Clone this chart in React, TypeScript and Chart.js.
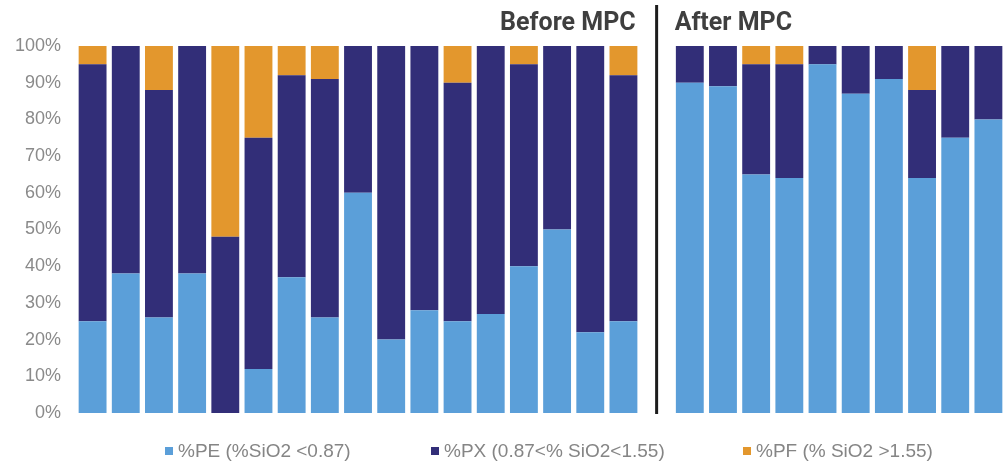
import React, { useEffect, useRef } from "react";
import { Chart, registerables } from "chart.js";

Chart.register(...registerables);

// 17 "before" samples, one empty separator slot, 10 "after" samples
const categories: string[] = [
  "B1", "B2", "B3", "B4", "B5", "B6", "B7", "B8", "B9", "B10", "B11", "B12", "B13", "B14", "B15", "B16", "B17",
  "",
  "A1", "A2", "A3", "A4", "A5", "A6", "A7", "A8", "A9", "A10",
];
const separatorIndex = 17;

const pe: (number | null)[] = [
  25, 38, 26, 38, 0, 12, 37, 26, 60, 20, 28, 25, 27, 40, 50, 22, 25,
  null,
  90, 89, 65, 64, 95, 87, 91, 64, 75, 80,
];
const px: (number | null)[] = [
  70, 62, 62, 62, 48, 63, 55, 65, 40, 80, 72, 65, 73, 55, 50, 78, 67,
  null,
  10, 11, 30, 31, 5, 13, 9, 24, 25, 20,
];
const pf: (number | null)[] = [
  5, 0, 12, 0, 52, 25, 8, 9, 0, 0, 0, 10, 0, 5, 0, 0, 8,
  null,
  0, 0, 5, 5, 0, 0, 0, 12, 0, 0,
];

const seriesNames = ["%PE (%SiO2 <0.87)", "%PX (0.87<% SiO2<1.55)", "%PF (% SiO2 >1.55)"];
const seriesColors = ["#5b9fd9", "#322e78", "#e3972d"];
const yTicks = [0, 10, 20, 30, 40, 50, 60, 70, 80, 90, 100];
const groupTitles = ["Before MPC", "After MPC"];

const legendPos = [165, 431, 743];

export default function App() {
  const canvasRef = useRef<HTMLCanvasElement | null>(null);

  useEffect(() => {
    document.body.style.margin = "0";
    const canvas = canvasRef.current;
    if (!canvas) return;

    const separatorPlugin = {
      id: "separator",
      afterDatasetsDraw(chart: any) {
        const { ctx, chartArea, scales } = chart;
        const x = scales.x.getPixelForValue(separatorIndex);
        ctx.save();
        ctx.strokeStyle = "#1c1c1c";
        ctx.lineWidth = 3;
        ctx.beginPath();
        ctx.moveTo(x, 5);
        ctx.lineTo(x, chartArea.bottom + 1);
        ctx.stroke();
        ctx.fillStyle = "#3f3f3f";
        ctx.font = "bold 25px Roboto";
        ctx.textBaseline = "alphabetic";
        ctx.textAlign = "right";
        ctx.fillText(groupTitles[0], x - 21, 30);
        ctx.textAlign = "left";
        ctx.fillText(groupTitles[1], x + 18, 30);
        ctx.restore();
      },
    };

    const chart = new Chart(canvas, {
      type: "bar",
      data: {
        labels: categories,
        datasets: [
          { label: seriesNames[0], data: pe, backgroundColor: seriesColors[0] },
          { label: seriesNames[1], data: px, backgroundColor: seriesColors[1] },
          { label: seriesNames[2], data: pf, backgroundColor: seriesColors[2] },
        ],
      },
      options: {
        animation: false,
        responsive: true,
        maintainAspectRatio: false,
        layout: { padding: { top: 46, bottom: 54, left: 0, right: 0 } },
        datasets: { bar: { barPercentage: 0.84, categoryPercentage: 1 } },
        plugins: {
          legend: { display: false },
          tooltip: { enabled: false },
        },
        scales: {
          x: { stacked: true, display: false },
          y: {
            stacked: true,
            min: 0,
            max: 100,
            afterFit: (s: any) => {
              s.width = 76;
            },
            afterBuildTicks: (s: any) => {
              s.ticks = yTicks.map((v) => ({ value: v }));
            },
            grid: { display: false, drawTicks: false },
            border: { display: false },
            ticks: {
              padding: 15,
              color: "#8a8a8a",
              font: { family: "'Liberation Sans', Arial, sans-serif", size: 18 },
              callback: (v: any) => v + "%",
            },
          },
        },
      },
      plugins: [separatorPlugin],
    });

    return () => chart.destroy();
  }, []);

  return (
    <div style={{ position: "absolute", left: 0, top: 0, width: 1005, height: 467, background: "#fff" }}>
      <canvas ref={canvasRef} />
      {seriesNames.map((name, i) => (
        <div
          key={name}
          style={{
            position: "absolute",
            left: legendPos[i],
            top: 440,
            height: 22,
            display: "flex",
            alignItems: "center",
            fontFamily: "'Liberation Sans', Arial, sans-serif",
            fontSize: 19,
            color: "#858585",
            whiteSpace: "nowrap",
          }}
        >
          <span style={{ display: "inline-block", width: 8, height: 8, background: seriesColors[i], marginRight: 5 }} />
          {name}
        </div>
      ))}
    </div>
  );
}
